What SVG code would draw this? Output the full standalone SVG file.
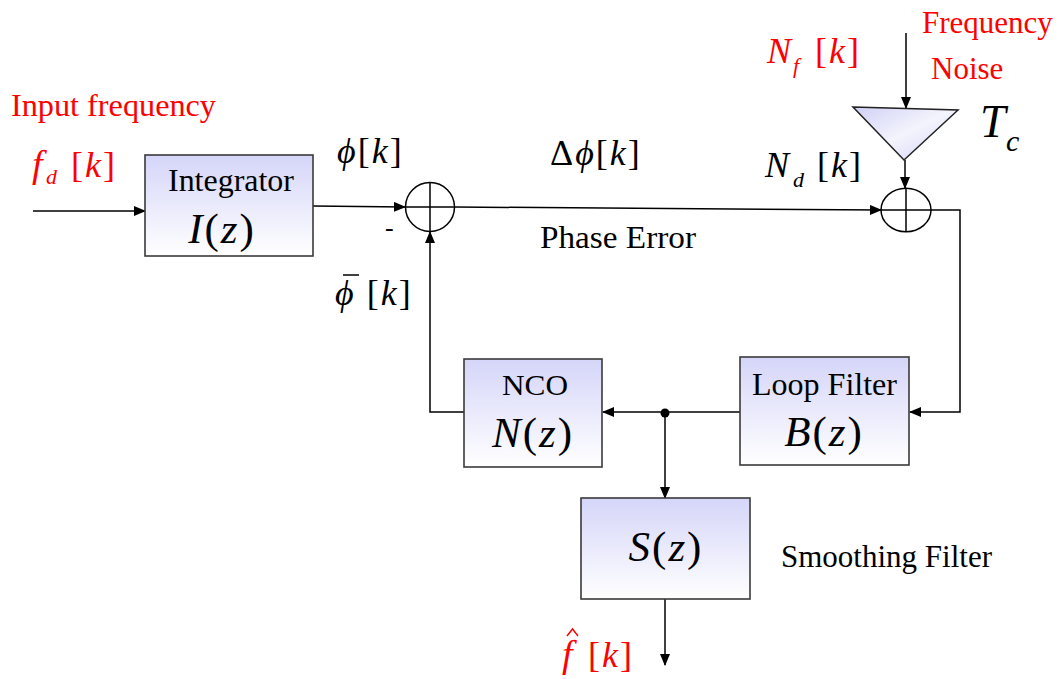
<svg xmlns="http://www.w3.org/2000/svg" width="1061" height="679" viewBox="0 0 1061 679">
<defs>
<linearGradient id="boxg" x1="0" y1="0" x2="0" y2="1">
<stop offset="0" stop-color="#d5d5f9"/>
<stop offset="1" stop-color="#ffffff"/>
</linearGradient>
<linearGradient id="trig" x1="0" y1="0" x2="1" y2="1">
<stop offset="0" stop-color="#d0d0f6"/>
<stop offset="0.5" stop-color="#f4f4fd"/>
<stop offset="1" stop-color="#d0d0f6"/>
</linearGradient>
<marker id="arr" markerWidth="12" markerHeight="10" refX="11" refY="5" orient="auto" markerUnits="userSpaceOnUse">
<path d="M0,0 L12,5 L0,10 Z" fill="#000"/>
</marker>
<style>
.box{fill:url(#boxg);stroke:#3a3a3a;stroke-width:1.6}
.ln{fill:none;stroke:#000;stroke-width:1.5}
.arr{marker-end:url(#arr)}
text{font-family:'Liberation Serif','Times New Roman',serif;fill:#000}
.red{fill:#ff0000}
.it{font-style:italic}
.lab{font-size:31px}
.math{font-size:43px;letter-spacing:2px}
.sym{font-size:36px;letter-spacing:2px}
.sub{font-size:22px;font-style:italic}
</style>
</defs>

<g id="connectors">
<path class="ln arr" d="M33,211 L145,211"/>
<path class="ln arr" d="M313,206 L405,207"/>
<path class="ln arr" d="M455,207 L881,210"/>
<path class="ln arr" d="M906,33 L906,108"/>
<path class="ln arr" d="M905,160 L905,188"/>
<path class="ln arr" d="M931,210 L960,210 L960,412 L910,412"/>
<path class="ln arr" d="M740,412 L603,412"/>
<path class="ln arr" d="M464,412 L430,412 L430,232"/>
<path class="ln arr" d="M665,413 L665,498"/>
<path class="ln arr" d="M665,599 L665,665"/>
<circle cx="665" cy="413" r="4.5" fill="#000"/>
</g>

<g id="integrator">
<rect class="box" x="145" y="155" width="168" height="101"/>
<text class="lab" x="168" y="191" textLength="126" lengthAdjust="spacingAndGlyphs">Integrator</text>
<text class="math" x="222" y="243" text-anchor="middle"><tspan class="it">I</tspan>(<tspan class="it">z</tspan>)</text>
</g>

<g id="sum1">
<circle cx="430" cy="207" r="24.5" fill="#fff" stroke="#000" stroke-width="1.5"/>
<path class="ln" d="M405.5,207 H454.5 M430,182.5 V231.5"/>
</g>

<g id="sum2">
<ellipse cx="906" cy="210" rx="25" ry="21.7" fill="#fff" stroke="#000" stroke-width="1.5"/>
<path class="ln" d="M881,210 H931 M906,188.3 V231.7"/>
</g>

<g id="gain">
<path d="M853,107 L958,110 L904,160 Z" fill="url(#trig)" stroke="#222" stroke-width="1.5"/>
<text class="it" x="980" y="137" font-size="46">T</text>
<text class="it" x="1006" y="151" font-size="30">c</text>
</g>

<g id="nco">
<rect class="box" x="464" y="359" width="138" height="108"/>
<text x="502" y="395" font-size="30" textLength="66" lengthAdjust="spacingAndGlyphs">NCO</text>
<text class="math" x="533" y="447" text-anchor="middle"><tspan class="it">N</tspan>(<tspan class="it">z</tspan>)</text>
</g>

<g id="loopfilter">
<rect class="box" x="740" y="357" width="169" height="108"/>
<text class="lab" x="752" y="395" textLength="145" lengthAdjust="spacingAndGlyphs">Loop Filter</text>
<text class="math" x="824" y="446" text-anchor="middle"><tspan class="it">B</tspan>(<tspan class="it">z</tspan>)</text>
</g>

<g id="smoothing">
<rect class="box" x="581" y="498" width="169" height="101"/>
<text class="math" x="666" y="561" text-anchor="middle"><tspan class="it">S</tspan>(<tspan class="it">z</tspan>)</text>
</g>

<g id="labels">
<text class="red lab" x="11" y="116" textLength="205" lengthAdjust="spacingAndGlyphs">Input frequency</text>
<text class="red it" x="32" y="177" font-size="38">f</text>
<text class="red sub" x="46" y="184">d</text>
<text class="red sym" x="71" y="177">[<tspan class="it">k</tspan>]</text>

<text class="sym" x="337" y="163"><tspan class="it">ϕ</tspan>[<tspan class="it">k</tspan>]</text>
<text x="385" y="236" font-size="26">-</text>
<text class="sym" x="335" y="305"><tspan class="it">ϕ</tspan> [<tspan class="it">k</tspan>]</text>
<path class="ln" d="M343,275 H359"/>

<text class="sym" x="550" y="165">Δ<tspan class="it">ϕ</tspan>[<tspan class="it">k</tspan>]</text>
<text class="lab" x="540" y="248" textLength="156" lengthAdjust="spacingAndGlyphs">Phase Error</text>

<text class="red it" x="767" y="63" font-size="36">N</text>
<text class="red sub" x="793" y="73">f</text>
<text class="red sym" x="815" y="63">[<tspan class="it">k</tspan>]</text>
<text class="red lab" x="922" y="33">Frequency</text>
<text class="red lab" x="931" y="79">Noise</text>

<text class="it" x="765" y="177" font-size="36">N</text>
<text class="sub" x="793" y="187">d</text>
<text class="sym" x="817" y="177">[<tspan class="it">k</tspan>]</text>

<text class="lab" x="781" y="567">Smoothing Filter</text>

<text class="red it" x="562" y="667" font-size="38">f</text>
<path d="M567,636 L572.5,629 L578,636" fill="none" stroke="#ff0000" stroke-width="1.5"/>
<text class="red sym" x="588" y="667">[<tspan class="it">k</tspan>]</text>
</g>
</svg>
